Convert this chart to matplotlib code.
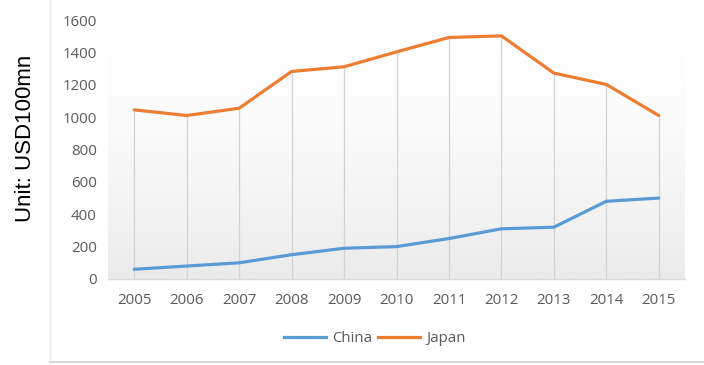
import numpy as np
import matplotlib.pyplot as plt
from matplotlib.colors import LinearSegmentedColormap
from matplotlib.lines import Line2D

years = [2005, 2006, 2007, 2008, 2009, 2010, 2011, 2012, 2013, 2014, 2015]
china = [60, 80, 100, 150, 190, 200, 250, 310, 320, 480, 500]
japan = [1045, 1010, 1055, 1282, 1311, 1403, 1492, 1502, 1272, 1202, 1010]
y_ticks = [0, 200, 400, 600, 800, 1000, 1200, 1400, 1600]

blue = '#5B9BD5'
orange = '#ED7D31'
tick_color = '#595959'

fig = plt.figure(figsize=(7.04, 3.65), dpi=100)
ax = fig.add_axes([108/704, 1-279/365, (685-108)/704, (279-20)/365])

# plot area gradient (white at top -> light gray at bottom)
cmap = LinearSegmentedColormap.from_list('bg', ['#ffffff', '#ebebeb'])
grad = np.linspace(0, 1, 256).reshape(-1, 1) ** 1.6
ax.imshow(grad, cmap=cmap, aspect='auto', extent=[0, 1, 0, 1],
          transform=ax.transAxes, zorder=0)

# drop lines from the highest point down to the axis
tops = [max(c, j) for c, j in zip(china, japan)]
ax.vlines(years, 0, tops, colors='#d3d3d3', linewidth=0.9, zorder=1)

ax.plot(years, china, color=blue, linewidth=2.3, solid_capstyle='round', zorder=3)
ax.plot(years, japan, color=orange, linewidth=2.3, solid_capstyle='round', zorder=3)

ax.set_xlim(2004.5, 2015.5)
ax.set_ylim(0, 1600)
ax.set_xticks(years)
ax.set_yticks(y_ticks)
for s in ['top', 'right', 'left']:
    ax.spines[s].set_visible(False)
ax.spines['bottom'].set_color('#d9d9d9')
ax.spines['bottom'].set_linewidth(1)
ax.tick_params(length=0, labelsize=10.8, labelcolor=tick_color)
ax.tick_params(axis='y', pad=8)
ax.tick_params(axis='x', pad=10)
for lab in ax.get_xticklabels() + ax.get_yticklabels():
    lab.set_fontfamily('Open Sans')

fig.text(26/704, 1-138/365, 'Unit: USD100mn', rotation=90, fontsize=16,
         family='Liberation Sans', color='black', ha='center', va='center')

handles = [Line2D([], [], color=blue, linewidth=2.3),
           Line2D([], [], color=orange, linewidth=2.3)]
fig.legend(handles, ['China', 'Japan'], loc='center', bbox_to_anchor=(375/704, 1-339/365),
           ncol=2, frameon=False, handlelength=2.8, handletextpad=0.4, columnspacing=0.4,
           prop={'family': 'Open Sans', 'size': 10.8}, labelcolor=tick_color)

# light chart frame
fig.add_artist(Line2D([50/704, 50/704], [1-362/365, 1], color='#ececec', linewidth=1))
fig.add_artist(Line2D([50/704, 1], [1-362/365, 1-362/365], color='#cfcfcf', linewidth=1.2))

fig.savefig('out.png', dpi=100)
